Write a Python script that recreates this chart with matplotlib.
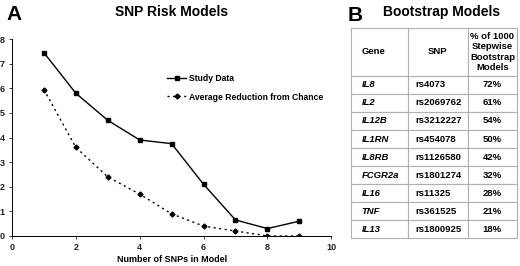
import matplotlib
matplotlib.use("Agg")
import matplotlib.pyplot as plt

plt.rcParams['font.family'] = ['Liberation Sans', 'DejaVu Sans']
plt.rcParams['font.weight'] = 'bold'

# Panel A data
n_snps = [1, 2, 3, 4, 5, 6, 7, 8, 9]
study_data = [7.45, 5.8, 4.7, 3.9, 3.75, 2.1, 0.65, 0.3, 0.6]
avg_reduction = [5.95, 3.6, 2.4, 1.7, 0.9, 0.4, 0.2, 0.0, 0.0]

# Panel B table
genes = ["IL8", "IL2", "IL12B", "IL1RN", "IL8RB", "FCGR2a", "IL16", "TNF", "IL13"]
snps = ["rs4073", "rs2069762", "rs3212227", "rs454078", "rs1126580",
        "rs1801274", "rs11325", "rs361525", "rs1800925"]
pct = ["72%", "61%", "54%", "50%", "42%", "32%", "28%", "21%", "18%"]
header = ["Gene", "SNP", "% of 1000\nStepwise\nBootstrap\nModels"]

fig = plt.figure(figsize=(5.2, 2.66), dpi=100)

# ---- panel A ----
ax = fig.add_axes([0.023, 0.113, 0.614, 0.740])
ax.plot(n_snps, study_data, "k-", marker="s", ms=3.5, lw=1.0, label="Study Data")
ax.plot(n_snps, avg_reduction, color="k", ls=(0, (1.5, 2.5)), marker="D", ms=2.5,
        lw=1.0, label="Average Reduction from Chance")
ax.set_xlim(0, 10)
ax.set_ylim(0, 8)
ax.set_xticks(range(0, 11, 2))
ax.set_yticks(range(0, 9))
ax.tick_params(labelsize=6.5, length=2, width=0.6, pad=3, colors="#222222")
for s in ["top", "right"]:
    ax.spines[s].set_visible(False)
for s in ["left", "bottom"]:
    ax.spines[s].set_linewidth(0.7)
ax.set_xlabel("Number of SNPs in Model", fontsize=6.5, fontweight="bold", labelpad=2)
ax.legend(loc="upper left", bbox_to_anchor=(0.475, 0.84), frameon=False,
          fontsize=6.2, handlelength=2.2, labelspacing=1.1, handletextpad=0.3,
          borderaxespad=0)

fig.text(0.33, 0.955, "SNP Risk Models", ha="center", va="center",
         fontsize=10, fontweight="bold")
fig.text(0.012, 0.945, "A", ha="left", va="center", fontsize=15, fontweight="bold")

# ---- panel B ----
fig.text(0.668, 0.94, "B", ha="left", va="center", fontsize=15, fontweight="bold")
fig.text(0.85, 0.955, "Bootstrap Models", ha="center", va="center",
         fontsize=10, fontweight="bold")

tx = fig.add_axes([0.675, 0.105, 0.319, 0.79])
tx.axis("off")
rows = [header] + [[g, s, p] for g, s, p in zip(genes, snps, pct)]
tab = tx.table(cellText=rows, bbox=[0, 0, 1, 1], colWidths=[0.343, 0.362, 0.295],
               cellLoc="left")
tab.auto_set_font_size(False)
n_rows = len(rows)
head_h = 48.0
row_h = 18.0
total = head_h + row_h * (n_rows - 1)
for (r, c), cell in tab.get_celld().items():
    cell.set_edgecolor("#b0b0b0")
    cell.set_linewidth(0.8)
    cell.set_height((head_h if r == 0 else row_h) / total)
    t = cell.get_text()
    t.set_fontsize(6.8)
    t.set_fontweight("bold")
    t.set_linespacing(1.2)
    if c == 2 or (r == 0 and c == 1):
        cell._loc = "center"
        t.set_ha("center")
    elif c == 0:
        cell.PAD = 0.19
    else:
        cell.PAD = 0.12
    if c == 0 and r > 0:
        t.set_style("italic")

fig.savefig("out.png", dpi=100)
